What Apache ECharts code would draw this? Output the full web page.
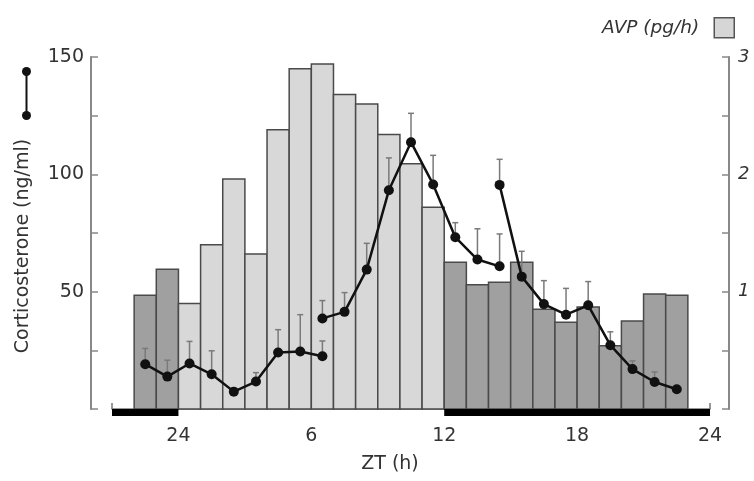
<!DOCTYPE html>
<html><head><meta charset="utf-8">
<script src="https://cdn.jsdelivr.net/npm/echarts@6/dist/echarts.min.js"></script>
<style>html,body{margin:0;padding:0;background:#fff}#c{width:754px;height:481px}</style>
</head><body><div id="c"></div>
<script>
// ---- data ----
const barStarts = [-2,-1,0,1,2,3,4,5,6,7,8,9,10,11,12,13,14,15,16,17,18,19,20,21,22];
const avpValues = [0.97,1.19,0.90,1.40,1.96,1.32,2.38,2.90,2.94,2.68,2.60,2.34,2.09,1.72,1.25,1.06,1.08,1.25,0.85,0.74,0.87,0.54,0.75,0.98,0.97];
const lightStart = 0, lightEnd = 12;
const darkPhaseFrom = [-3, 12];
const darkPhaseTo = [0, 24];

const cortHoursA = [-1.5,-0.5,0.5,1.5,2.5,3.5,4.5,5.5,6.5];
const cortA      = [19.1,13.8,19.4,14.8,7.4,11.7,24.1,24.5,22.5];
const cortErrTopA= [25.8,20.8,28.8,24.8,null,15.5,33.8,40.2,29.0];

const cortHoursB = [6.5,7.5,8.5,9.5,10.5,11.5,12.5,13.5,14.5];
const cortB      = [38.6,41.4,59.4,93.2,113.7,95.7,73.2,63.7,60.8];
const cortErrTopB= [46.2,49.6,70.6,107.0,126.0,108.1,79.4,76.8,74.6];

const cortHoursC = [14.5,15.5,16.5,17.5,18.5,19.5,20.5,21.5,22.5];
const cortC      = [95.5,56.4,44.7,40.2,44.2,27.2,17.0,11.5,8.4];
const cortErrTopC= [106.4,67.2,54.7,51.4,54.3,32.9,20.5,15.8,null];

const xTickValues = [0,6,12,18,24];
const xTickLabels = ['24','6','12','18','24'];

// ---- build ----
const FONT = 'DejaVu Sans';
const TXT = '#333';
const barData = barStarts.map((s,i)=>[s, avpValues[i], (s>=lightStart && s<lightEnd)?1:0]);
const darkData = darkPhaseFrom.map((a,i)=>[a, darkPhaseTo[i]]);
function pairs(xs, ys){ return xs.map((x,i)=>[x, ys[i]]); }
const errData = [];
[[cortHoursA,cortA,cortErrTopA],[cortHoursB,cortB,cortErrTopB],[cortHoursC,cortC,cortErrTopC]].forEach(([xs,ys,ts])=>{
  xs.forEach((x,i)=>{ if(ts[i]!=null) errData.push([x, ys[i], ts[i]]); });
});

function lineSeries(data){
  return {
    type:'line', name:'Corticosterone', data:data, yAxisIndex:0,
    symbol:'circle', symbolSize:10, showSymbol:true,
    itemStyle:{color:'#111'}, lineStyle:{color:'#111', width:2.5},
    z:5, animation:false
  };
}

const chart = echarts.init(document.getElementById('c'), null, {renderer:'canvas'});
chart.setOption({
  animation:false,
  backgroundColor:'#fff',
  textStyle:{fontFamily:FONT},
  grid:{left:112, right:44, top:57, bottom:72},
  legend:{
    right:19, top:17, align:'right', itemWidth:20, itemHeight:20, padding:0,
    selectedMode:false,
    textStyle:{fontFamily:FONT, fontStyle:'italic', fontSize:18.5, color:TXT, padding:[0,10,0,0]},
    data:[{name:'AVP (pg/h)', icon:'rect', itemStyle:{color:'#d6d6d6', borderColor:'#555', borderWidth:1.5}}]
  },
  xAxis:{
    type:'value', min:-3, max:24, interval:3,
    name:'ZT (h)', nameLocation:'middle', nameGap:46,
    nameTextStyle:{fontFamily:FONT, fontSize:19, color:TXT, padding:[0,42,0,0]},
    axisLine:{show:true, onZero:false, lineStyle:{color:'#777', width:1.5}},
    axisTick:{show:true, inside:true, length:6, customValues:[-3,24], lineStyle:{color:'#777', width:1.5}},
    axisLabel:{customValues:xTickValues, margin:18, fontFamily:FONT, fontSize:19, color:TXT,
      formatter:(v)=>{ const i = xTickValues.indexOf(v); return i>=0 ? xTickLabels[i] : ''; }},
    splitLine:{show:false}
  },
  yAxis:[{
    type:'value', min:0, max:150, interval:25, position:'left', offset:21,
    name:'Corticosterone (ng/ml)', nameLocation:'middle', nameGap:58, nameRotate:90,
    nameTextStyle:{fontFamily:FONT, fontSize:19, color:TXT, padding:[0,26,0,0]},
    axisLine:{show:true, onZero:false, lineStyle:{color:'#888', width:2}},
    axisTick:{show:true, inside:true, length:7, lineStyle:{color:'#888', width:1.5}},
    axisLabel:{margin:7, fontFamily:FONT, fontSize:19, color:TXT,
      formatter:(v)=> (v>0 && v%50===0) ? String(v) : ''},
    splitLine:{show:false}
  },{
    type:'value', min:0, max:3, interval:0.5, position:'right', offset:19,
    axisLine:{show:true, onZero:false, lineStyle:{color:'#888', width:2}},
    axisTick:{show:true, inside:true, length:7, lineStyle:{color:'#888', width:1.5}},
    axisLabel:{margin:9, fontFamily:FONT, fontStyle:'italic', fontSize:18, color:TXT,
      formatter:(v)=> (v>0 && Number.isInteger(v)) ? String(v) : ''},
    splitLine:{show:false}
  }],
  graphic:[{
    type:'group', left:22, top:67,
    children:[
      {type:'line', shape:{x1:5, y1:5, x2:5, y2:49}, style:{stroke:'#111', lineWidth:2}},
      {type:'circle', shape:{cx:5, cy:5, r:4.5}, style:{fill:'#111'}},
      {type:'circle', shape:{cx:5, cy:49, r:4.5}, style:{fill:'#111'}}
    ]
  }],
  series:[
    {
      type:'custom', name:'AVP (pg/h)', yAxisIndex:1, data:barData, z:2,
      itemStyle:{color:'#d6d6d6'},
      renderItem:(params, api)=>{
        const s = api.value(0), v = api.value(1), light = api.value(2);
        const p0 = api.coord([s, v]);
        const p1 = api.coord([s+1, 0]);
        return {type:'rect', shape:{x:p0[0], y:p0[1], width:p1[0]-p0[0], height:p1[1]-p0[1]},
          style:{fill: light ? '#d8d8d8' : '#a0a0a0', stroke:'#4a4a4a', lineWidth:1.5}};
      }
    },
    {
      type:'custom', name:'dark', yAxisIndex:0, data:darkData, z:3, clip:false, silent:true,
      renderItem:(params, api)=>{
        const a = api.coord([api.value(0), 0]);
        const b = api.coord([api.value(1), 0]);
        return {type:'rect', shape:{x:a[0], y:a[1], width:b[0]-a[0], height:7}, style:{fill:'#000'}};
      }
    },
    {
      type:'custom', name:'err', yAxisIndex:0, data:errData, z:4, silent:true,
      renderItem:(params, api)=>{
        const p = api.coord([api.value(0), api.value(1)]);
        const t = api.coord([api.value(0), api.value(2)]);
        return {type:'group', children:[
          {type:'line', shape:{x1:p[0], y1:p[1], x2:t[0], y2:t[1]}, style:{stroke:'#7a7a7a', lineWidth:1.5}},
          {type:'line', shape:{x1:t[0]-3, y1:t[1], x2:t[0]+3, y2:t[1]}, style:{stroke:'#7a7a7a', lineWidth:1.5}}
        ]};
      }
    },
    lineSeries(pairs(cortHoursA, cortA)),
    lineSeries(pairs(cortHoursB, cortB)),
    lineSeries(pairs(cortHoursC, cortC))
  ]
});
</script>
</body></html>
